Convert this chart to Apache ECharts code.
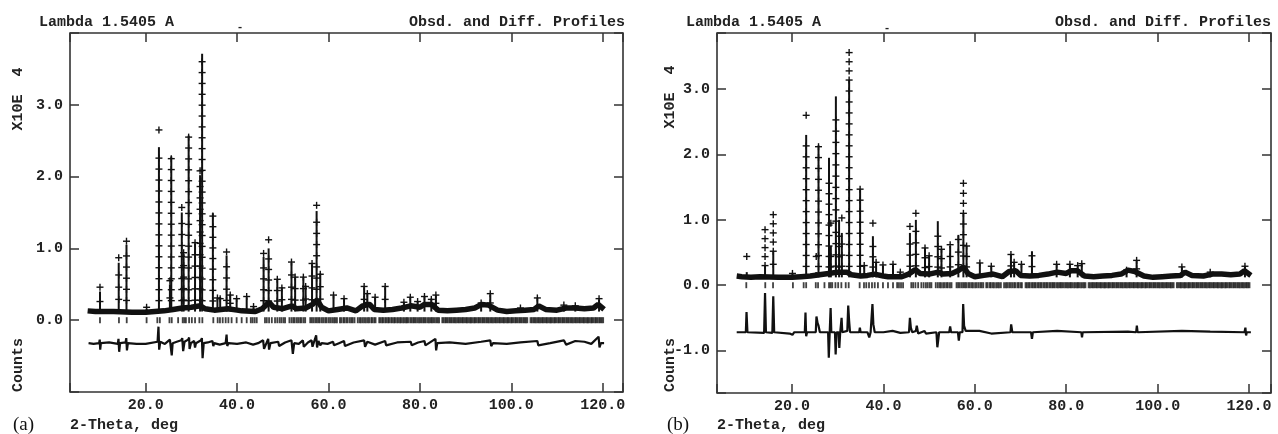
<!DOCTYPE html>
<html><head><meta charset="utf-8">
<script src="https://cdn.jsdelivr.net/npm/echarts@6/dist/echarts.min.js"></script>
<style>html,body{margin:0;padding:0;background:#fff}#c{width:1278px;height:434px}</style>
</head><body><div id="c"></div>
<script>
// ---- Data (intensities in units of 10^4 counts) ----
// Peaks: [2-theta, calculated height, observed height]
var peaksA = [[10.0,0.40,0.46],[14.1,0.80,0.87],[15.8,1.05,1.10],[20.2,0.16,0.18],[22.9,2.41,2.65],[25.3,0.50,0.55],[25.6,2.28,2.25],
  [27.9,1.50,1.57],[28.3,0.92,0.94],[29.4,2.57,2.55],[30.8,1.07,1.08],[31.9,2.02,2.08],[32.35,3.71,3.60],[34.7,1.49,1.45],[35.7,0.30,0.31],
  [36.3,0.32,0.30],[37.7,0.90,0.95],[38.5,0.36,0.35],[39.9,0.30,0.30],[42.1,0.32,0.33],[43.6,0.18,0.19],[45.8,0.88,0.93],[46.9,1.00,1.12],
  [48.8,0.56,0.57],[49.8,0.46,0.45],[51.9,0.80,0.81],[52.7,0.60,0.60],[54.5,0.60,0.60],[55.0,0.48,0.47],[56.4,0.78,0.79],[57.4,1.52,1.60],
  [58.2,0.65,0.64],[61.1,0.34,0.35],[63.4,0.30,0.30],[67.8,0.46,0.47],[68.5,0.38,0.37],[70.2,0.32,0.32],[72.4,0.46,0.47],[76.5,0.25,0.25],
  [77.9,0.32,0.32],[79.5,0.26,0.26],[81.0,0.33,0.33],[82.5,0.30,0.29],[83.5,0.35,0.35],[93.4,0.24,0.24],[95.4,0.36,0.37],[102.0,0.17,0.17],
  [105.7,0.31,0.31],[111.5,0.20,0.21],[114.0,0.20,0.20],[119.2,0.29,0.30]];
var peaksB = [[10.1,0.20,0.44],[14.1,0.30,0.85],[15.9,0.52,1.08],[20.1,0.17,0.18],[23.1,2.30,2.60],[25.3,0.20,0.44],[25.8,2.14,2.12],
  [28.1,1.95,1.56],[28.5,0.60,0.95],[29.6,2.89,2.53],[30.3,1.00,0.75],[30.9,0.80,1.03],[32.5,3.14,3.56],[34.9,1.47,1.47],[35.8,0.30,0.30],
  [37.7,0.75,0.95],[38.4,0.35,0.35],[39.9,0.30,0.31],[42.1,0.32,0.32],[43.7,0.20,0.20],[45.8,0.80,0.90],[47.1,1.00,1.10],[49.1,0.57,0.57],
  [50.0,0.45,0.45],[51.9,0.98,0.75],[52.7,0.55,0.55],[54.6,0.60,0.62],[56.4,0.77,0.70],[57.5,1.10,1.56],[58.2,0.60,0.60],[61.1,0.34,0.34],
  [63.6,0.29,0.29],[67.9,0.47,0.47],[68.6,0.35,0.35],[70.2,0.32,0.32],[72.5,0.52,0.45],[77.9,0.32,0.32],[80.8,0.32,0.32],[82.5,0.30,0.30],
  [83.4,0.34,0.33],[93.2,0.23,0.23],[95.4,0.38,0.38],[105.3,0.28,0.28],[111.5,0.20,0.20],[119.1,0.29,0.29]];
// Observed background band: [2-theta, intensity]
var bgA = [[7.3,0.13],[9,0.12],[11,0.12],[13,0.12],[17,0.11],[20,0.11],[22,0.12],[24,0.13],[26,0.15],[28,0.17],[30,0.18],[32,0.2],[33,0.16],
  [35,0.14],[36.5,0.15],[38,0.16],[40,0.14],[41,0.13],[44,0.12],[45.5,0.16],[47,0.25],[48,0.18],[50,0.16],[52,0.2],[53,0.16],[55,0.17],
  [56.5,0.22],[57.5,0.28],[58.5,0.18],[60,0.13],[62,0.15],[64,0.17],[66,0.13],[67.5,0.2],[69,0.22],[70,0.15],[72,0.14],[74,0.15],[76,0.17],
  [78,0.2],[80,0.18],[81,0.22],[82.5,0.22],[84,0.14],[86,0.13],[88,0.14],[90,0.15],[92,0.17],[93.5,0.22],[95,0.21],[97,0.14],[99,0.12],
  [101,0.13],[103,0.14],[105,0.15],[106,0.2],[107.5,0.15],[110,0.14],[112,0.17],[114,0.17],[116,0.16],[118,0.17],[119,0.22],[120.3,0.15]];
var bgB = [[7.9,0.14],[9,0.13],[11,0.12],[13,0.13],[17,0.12],[20,0.12],[22,0.13],[24,0.14],[26,0.16],[28,0.18],[30,0.2],[32,0.2],[33,0.16],
  [35,0.14],[36.5,0.15],[38,0.17],[40,0.14],[41,0.13],[44,0.13],[45.5,0.17],[47,0.24],[48,0.18],[50,0.17],[52,0.2],[53,0.17],[55,0.18],
  [56.5,0.23],[57.5,0.28],[58.5,0.18],[60,0.13],[62,0.15],[64,0.17],[66,0.13],[67.5,0.21],[69,0.22],[70,0.15],[72,0.14],[74,0.15],[76,0.17],
  [78,0.2],[80,0.18],[81,0.22],[82.5,0.22],[84,0.14],[86,0.13],[88,0.14],[90,0.15],[92,0.17],[93.5,0.23],[95,0.21],[97,0.14],[99,0.12],
  [101,0.13],[103,0.14],[105,0.15],[106,0.2],[107.5,0.15],[110,0.14],[112,0.17],[114,0.17],[116,0.16],[118,0.17],[119,0.22],[120.4,0.15]];
// Difference curves: [2-theta, intensity]
var diffA = [[7.5,-0.32],[8.6,-0.33],[9.8,-0.32],[9.95,-0.27],[10.05,-0.41],[10.2,-0.32],[12,-0.31],[13.9,-0.33],[14.05,-0.26],[14.2,-0.44],[14.4,-0.32],[15.6,-0.31],
  [15.75,-0.25],[15.9,-0.42],[16.1,-0.32],[18,-0.33],[20,-0.33],[22.6,-0.30],[22.8,-0.09],[22.95,-0.41],[23.2,-0.30],[24.2,-0.33],[25.3,-0.27],[25.5,-0.25],[25.7,-0.49],
  [25.9,-0.32],[26.8,-0.30],[27.8,-0.28],[28.0,-0.25],[28.2,-0.43],[28.5,-0.30],[29.3,-0.27],[29.5,-0.24],[29.6,-0.40],[29.9,-0.32],[30.6,-0.29],[30.8,-0.38],
  [31.0,-0.32],[32.1,-0.28],[32.3,-0.25],[32.45,-0.53],[32.7,-0.32],[33.6,-0.31],[34.6,-0.29],[34.8,-0.36],[35,-0.32],[36.2,-0.34],[37.5,-0.32],[37.7,-0.20],[37.85,-0.36],
  [38.1,-0.32],[40,-0.33],[42,-0.31],[43.5,-0.34],[44.6,-0.32],[45.7,-0.28],[45.9,-0.40],[46.8,-0.26],[47.0,-0.41],[47.3,-0.32],[49,-0.30],[49.2,-0.36],[50.5,-0.31],[51.9,-0.28],
  [52.2,-0.47],[52.5,-0.32],[53.5,-0.33],[54.4,-0.28],[54.6,-0.37],[55.5,-0.31],[56.3,-0.28],[56.5,-0.37],[57.3,-0.21],[57.5,-0.38],[57.8,-0.29],[58.2,-0.35],[58.5,-0.32],
  [59.8,-0.33],[61,-0.30],[61.2,-0.35],[62.3,-0.32],[63.4,-0.29],[63.6,-0.36],[65.5,-0.31],[67.8,-0.28],[68,-0.37],[68.5,-0.30],[70.2,-0.34],[72.4,-0.29],[72.6,-0.35],
  [75,-0.31],[78,-0.30],[78.2,-0.35],[79.6,-0.31],[81,-0.29],[81.2,-0.35],[83.4,-0.26],[83.55,-0.42],[83.8,-0.32],[86.5,-0.31],[90,-0.33],[93.4,-0.30],[95.4,-0.28],
  [95.6,-0.36],[96,-0.32],[99,-0.33],[102,-0.31],[105.7,-0.29],[105.9,-0.35],[108.5,-0.32],[111.5,-0.28],[112,-0.34],[114,-0.29],[116,-0.30],[117.5,-0.33],[119.1,-0.23],
  [119.3,-0.38],[119.6,-0.32],[120.3,-0.32]];
var diffB = [[7.9,-0.72],[9.9,-0.72],[10.05,-0.41],[10.25,-0.72],[13.9,-0.73],[14.1,-0.12],[14.3,-0.72],[15.7,-0.73],[15.9,-0.17],[16.1,-0.72],
  [19.5,-0.74],[20.1,-0.76],[20.5,-0.72],[22.8,-0.72],[22.95,-0.42],[23.1,-0.78],[23.3,-0.72],[25.2,-0.72],[25.35,-0.48],[25.6,-0.58],[25.8,-0.62],
  [26.1,-0.72],[27.9,-0.72],[28.05,-1.11],[28.25,-0.72],[28.45,-0.35],[28.6,-0.72],[29.4,-0.72],[29.55,-1.06],[29.75,-0.72],[30.2,-0.72],
  [30.35,-0.96],[30.55,-0.72],[30.85,-0.50],[31.0,-0.72],[32.1,-0.70],[32.3,-0.31],[32.5,-0.55],[32.7,-0.72],[34.7,-0.72],[34.85,-0.65],[35,-0.72],
  [36.5,-0.72],[36.9,-0.80],[37.2,-0.72],[37.6,-0.29],[37.8,-0.60],[38.1,-0.72],[40,-0.72],[42,-0.70],[43.7,-0.73],[45.6,-0.72],[45.8,-0.50],
  [46.0,-0.65],[46.3,-0.72],[47.1,-0.70],[47.3,-0.62],[47.6,-0.74],[49,-0.70],[49.3,-0.74],[51.6,-0.72],[51.8,-0.95],[52.0,-0.98],[52.2,-0.72],
  [54.4,-0.72],[54.6,-0.63],[54.8,-0.72],[56.3,-0.72],[56.5,-0.85],[56.7,-0.72],[57.3,-0.72],[57.45,-0.29],[57.65,-0.62],[58,-0.70],[58.3,-0.72],
  [61,-0.70],[63.6,-0.74],[67.8,-0.72],[67.95,-0.60],[68.2,-0.72],[72.3,-0.72],[72.5,-0.82],[72.7,-0.72],[78,-0.70],[83.3,-0.72],[83.45,-0.80],
  [83.6,-0.72],[93.5,-0.71],[95.3,-0.72],[95.45,-0.62],[95.6,-0.72],[105.3,-0.70],[111.5,-0.71],[119,-0.72],[119.2,-0.65],[119.35,-0.77],
  [119.5,-0.72],[120.4,-0.72]];
// Reflection positions (2-theta)
var reflections = [10.0,14.15,15.85,20.2,22.55,23.1,25.2,25.7,27.1,28.1,28.45,28.8,29.5,30.1,30.8,31.75,32.4,34.8,35.75,36.25,36.85,37.5,38.1,
  38.8,39.9,41.0,42.1,43.0,43.4,43.85,44.3,46.1,46.5,47.0,47.6,48.3,48.8,49.3,49.7,50.15,50.5,51.45,51.9,52.3,52.6,53.05,53.4,53.8,54.1,54.55,
  54.9,56.0,56.35,56.7,57.1,57.45,57.8,58.1,58.55,58.9,59.3,59.6,60.05,60.4,60.8,61.2,61.5,61.85,62.5,62.8,63.25,63.5,63.9,64.2,64.65,65.0,
  65.3,65.7,66.4,66.8,67.1,67.5,67.85,68.2,68.6,68.9,69.35,69.6,70.0,70.3,71.1,71.4,71.75,72.0,72.4,72.7,73.05,73.3,73.7,74.0,74.35,74.6,75.0,
  75.3,75.65,75.9,76.3,76.6,76.95,77.2,77.5,77.9,78.2,78.55,78.8,79.1,79.45,79.8,80.1,80.4,80.75,81.0,81.3,81.7,82.0,82.35,82.6,82.9,83.25,
  83.6,83.9,84.2,84.9,85.2,85.55,85.8,86.1,86.45,86.7,87.0,87.35,87.6,87.9,88.25,88.5,88.8,89.15,89.4,89.7,90.05,90.3,90.6,90.95,91.2,91.5,
  91.85,92.1,92.4,92.75,93.0,93.3,93.65,93.9,94.2,94.55,94.8,95.1,95.45,95.7,96.0,96.35,96.6,96.9,97.25,97.5,97.8,98.15,98.4,98.7,99.05,99.3,
  99.6,99.95,100.2,100.5,100.85,101.1,101.4,101.75,102.0,102.3,102.65,102.9,103.2,103.5,104.2,104.5,104.85,105.1,105.4,105.75,106.0,106.3,
  106.65,106.9,107.2,107.55,107.8,108.1,108.45,108.7,109.0,109.35,109.6,109.9,110.25,110.5,110.8,111.15,111.4,111.7,112.05,112.3,112.6,
  112.95,113.2,113.5,113.85,114.1,114.4,114.75,115.0,115.3,115.65,115.9,116.2,116.55,116.8,117.1,117.45,117.7,118.0,118.35,118.6,118.9,
  119.25,119.5,119.8,120.1];
var xTickLabels = ['20.0','40.0','60.0','80.0','100.0','120.0'];

// ---- Chart ----
var chart = echarts.init(document.getElementById('c'), null, {renderer:'canvas'});
var FONT = '"Liberation Mono", "DejaVu Sans Mono", monospace';
var INK = '#111', FRAME = '#333';
var STICK_BASE = 0.12;

function xAxes(gi, min, max) {
  var common = {gridIndex: gi, type:'value', min:min, max:max, splitLine:{show:false}, axisLine:{show:false, onZero:false},
    axisTick:{show:true, inside:true, length:9, lineStyle:{color:FRAME, width:1.5}}};
  return [
    Object.assign({}, common, {position:'bottom', axisLabel:{show:true, margin:6, color:'#222', fontFamily:FONT, fontWeight:'bold', fontSize:15,
      formatter:function(v){ var s=v.toFixed(1); return xTickLabels.indexOf(s)>=0 ? s : ''; }}}),
    Object.assign({}, common, {position:'top', axisLabel:{show:false}})
  ];
}
function yAxes(gi, min, max, interval, lo, hi) {
  var common = {gridIndex: gi, type:'value', min:min, max:max, splitLine:{show:false}, axisLine:{show:false, onZero:false},
    axisTick:{show:true, inside:true, length:9, lineStyle:{color:FRAME, width:1.5}}};
  if (interval) common.interval = interval;
  return [
    Object.assign({}, common, {position:'left', axisLabel:{show:true, margin:7, color:'#222', fontFamily:FONT, fontWeight:'bold', fontSize:15,
      formatter:function(v){ return (Math.abs(v-Math.round(v))<1e-6 && v>=lo && v<=hi) ? v.toFixed(1) : ''; }}}),
    Object.assign({}, common, {position:'right', axisLabel:{show:false}})
  ];
}

function peakSeries(ai, peaks) {
  return {type:'custom', xAxisIndex:ai, yAxisIndex:ai, data:peaks, encode:{x:0, y:[1,2]}, clip:true, z:3,
    renderItem:function(params, api){
      var x = api.value(0), c = api.value(1), o = api.value(2);
      var p0 = api.coord([x, STICK_BASE]), p1 = api.coord([x, c]);
      var ch = [{type:'line', shape:{x1:p0[0], y1:p0[1], x2:p1[0], y2:p1[1]}, style:{stroke:INK, lineWidth:2}}];
      function cross(py){
        ch.push({type:'line', shape:{x1:p0[0]-3.5, y1:py, x2:p0[0]+3.5, y2:py}, style:{stroke:INK, lineWidth:1.4}});
        ch.push({type:'line', shape:{x1:p0[0], y1:py-3.5, x2:p0[0], y2:py+3.5}, style:{stroke:INK, lineWidth:1.4}});
      }
      var pLo = api.coord([x, Math.min(c, o)])[1];
      var pObs = api.coord([x, o])[1];
      var span = p0[1] - pLo;
      var n = Math.max(1, Math.round(span / 11));
      for (var i = 1; i < n; i++) cross(p0[1] - span * i / n);
      // observed points stacked above the calculated line when the gap is large
      var gap = p1[1] - pObs;
      if (gap > 25) {
        var m = Math.round(gap / 10);
        for (var j = 0; j < m; j++) cross(p1[1] - gap * j / m);
      }
      cross(pObs);
      return {type:'group', children:ch};
    }};
}
function panelSeries(ai, peaks, bg, diff) {
  return [
    {type:'line', xAxisIndex:ai, yAxisIndex:ai, data:bg, showSymbol:false, lineStyle:{color:INK, width:5.5}, z:2},
    peakSeries(ai, peaks),
    {type:'scatter', xAxisIndex:ai, yAxisIndex:ai, data:reflections.map(function(r){return [r,0];}), symbol:'rect', symbolSize:[1.8,6],
      itemStyle:{color:INK}, z:2},
    {type:'line', xAxisIndex:ai, yAxisIndex:ai, data:diff, showSymbol:false, lineStyle:{color:INK, width:2.2}, z:2}
  ];
}

function txt(x, y, s, opt) {
  opt = opt || {};
  return {type:'text', x:x, y:y, rotation:opt.rot||0, z:10,
    style:{text:s, font:(opt.font||('bold 15px '+FONT)), fill:opt.fill||'#222', align:opt.align||'left', verticalAlign:'middle'}};
}

var option = {
  animation:false,
  backgroundColor:'#fff',
  grid:[
    {left:70, top:33, width:553, height:359, show:true, borderColor:FRAME, borderWidth:1.6, backgroundColor:'transparent'},
    {left:717, top:33, width:554, height:360, show:true, borderColor:FRAME, borderWidth:1.6, backgroundColor:'transparent'}
  ],
  xAxis: xAxes(0, 3.44, 124.44).concat(xAxes(1, 3.59, 124.8)),
  yAxis: yAxes(0, -1, 4, 1, 0, 3).concat(yAxes(1, -1.65, 3.86, null, -1, 3)),
  series: panelSeries(0, peaksA, bgA, diffA).concat(panelSeries(2, peaksB, bgB, diffB)),
  graphic:[
    txt(39, 22, 'Lambda 1.5405 A'),
    txt(625, 22, 'Obsd. and Diff. Profiles', {align:'right'}),
    txt(240, 27, '-', {font:'bold 11px '+FONT, align:'center'}),
    txt(18, 99, 'X10E  4', {rot:Math.PI/2, align:'center'}),
    txt(18, 365, 'Counts', {rot:Math.PI/2, align:'center'}),
    txt(70, 425, '2-Theta, deg'),
    txt(13, 425, '(a)', {font:'19px "Liberation Serif", serif', fill:'#111'}),
    txt(686, 22, 'Lambda 1.5405 A'),
    txt(1271, 22, 'Obsd. and Diff. Profiles', {align:'right'}),
    txt(887, 28, '-', {font:'bold 11px '+FONT, align:'center'}),
    txt(670, 97, 'X10E  4', {rot:Math.PI/2, align:'center'}),
    txt(670, 365, 'Counts', {rot:Math.PI/2, align:'center'}),
    txt(717, 425, '2-Theta, deg'),
    txt(667, 425, '(b)', {font:'19px "Liberation Serif", serif', fill:'#111'})
  ]
};
chart.setOption(option);
</script></body></html>
